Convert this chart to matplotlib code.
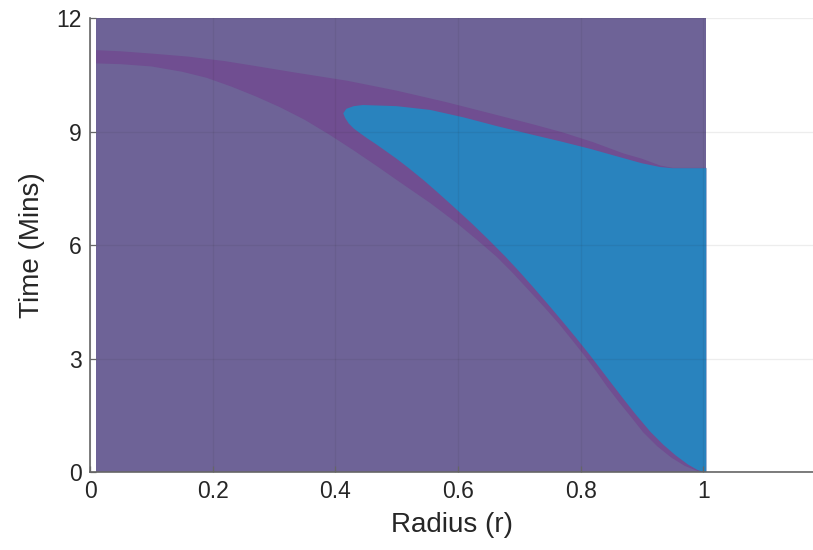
import numpy as np
import matplotlib
matplotlib.use("Agg")
import matplotlib.pyplot as plt

plt.rcParams['font.family'] = ['Liberation Sans', 'DejaVu Sans']

# Extent of the computed domain
domain_r = [0.01, 1.005]
domain_t = [0.0, 12.0]

# Upper edge of the transition band
band_top_r = [0.01, 0.05, 0.10, 0.16, 0.22, 0.27, 0.33, 0.42, 0.50, 0.58,
              0.66, 0.72, 0.77, 0.82, 0.87, 0.90, 0.93, 0.95, 1.005]
band_top_t = [11.15, 11.12, 11.06, 10.98, 10.86, 10.73, 10.57, 10.34, 10.08, 9.78,
              9.45, 9.20, 8.98, 8.72, 8.42, 8.28, 8.10, 8.04, 8.04]

# Lower edge of the transition band
band_low_r = [0.01, 0.05, 0.10, 0.15, 0.19, 0.23, 0.27, 0.31, 0.35, 0.39, 0.43,
              0.47, 0.50, 0.5547, 0.598, 0.63, 0.663, 0.69, 0.715, 0.74, 0.764,
              0.786, 0.8075, 0.826, 0.843, 0.862, 0.882, 0.902, 0.925, 0.948,
              0.97, 0.99, 1.0]
band_low_t = [10.80, 10.78, 10.72, 10.58, 10.42, 10.19, 9.93, 9.64, 9.31, 8.92, 8.50,
              8.06, 7.72, 7.11, 6.58, 6.15, 5.69, 5.25, 4.81, 4.37, 3.93,
              3.49, 3.05, 2.65, 2.26, 1.86, 1.46, 1.05, 0.68, 0.38,
              0.16, 0.03, 0.0]

# Boundary of the fully transformed zone: upper side (tip -> outer wall)
zone_top_r = [0.413, 0.418, 0.43, 0.445, 0.50, 0.555, 0.61, 0.664, 0.72, 0.767,
              0.816, 0.86, 0.90, 0.93, 0.95, 1.005]
zone_top_t = [9.48, 9.60, 9.67, 9.70, 9.67, 9.57, 9.37, 9.14, 8.92, 8.74,
              8.54, 8.34, 8.16, 8.06, 8.03, 8.03]
# lower side (tip -> outer wall at t = 0)
zone_low_r = [0.413, 0.416, 0.422, 0.430, 0.440, 0.452, 0.466, 0.480, 0.500, 0.520,
              0.545, 0.5655, 0.595, 0.6226, 0.650, 0.677, 0.700, 0.723, 0.746,
              0.7695, 0.793, 0.8157, 0.835, 0.851, 0.87, 0.89, 0.914, 0.935,
              0.955, 0.975, 0.99, 1.0, 1.005]
zone_low_t = [9.48, 9.36, 9.21, 9.08, 8.96, 8.82, 8.67, 8.51, 8.28, 8.03,
              7.70, 7.41, 6.98, 6.57, 6.14, 5.70, 5.30, 4.88, 4.45,
              4.00, 3.54, 3.08, 2.67, 2.33, 1.93, 1.52, 1.06, 0.72,
              0.44, 0.20, 0.06, 0.0, 0.0]

x_ticks = [0, 0.2, 0.4, 0.6, 0.8, 1]
x_tick_labels = ['0', '0.2', '0.4', '0.6', '0.8', '1']
y_ticks = [0, 3, 6, 9, 12]
y_tick_labels = ['0', '3', '6', '9', '12']

c_base = '#6e6397'
c_band = '#704e91'
c_zone = '#2983be'
c_text = '#262626'
c_axis = '#666666'

fig = plt.figure(figsize=(8.13, 5.5), dpi=100)
ax = fig.add_axes([90 / 813, 78 / 550, 723 / 813, 454 / 550])

# base region
ax.fill_between(domain_r, domain_t[0], domain_t[1], color=c_base, lw=0, zorder=1)

# transition band
band_r = np.concatenate([band_top_r, [1.005], band_low_r[::-1]])
band_t = np.concatenate([band_top_t, [0.0], band_low_t[::-1]])
ax.fill(band_r, band_t, color=c_band, lw=0, zorder=1.1)

# transformed zone
zone_r = np.concatenate([zone_top_r, zone_low_r[::-1]])
zone_t = np.concatenate([zone_top_t, zone_low_t[::-1]])
ax.fill(zone_r, zone_t, color=c_zone, lw=0, zorder=1.2)

ax.set_xlim(0, 1.179)
ax.set_ylim(0, 12)
ax.set_xticks(x_ticks, x_tick_labels)
ax.set_yticks(y_ticks, y_tick_labels)

ax.set_axisbelow(False)
ax.grid(True, color='#262626', alpha=0.08, lw=0.9)

for s in ['top', 'right']:
    ax.spines[s].set_visible(False)
for s in ['left', 'bottom']:
    ax.spines[s].set_color(c_axis)
    ax.spines[s].set_linewidth(1.2)

ax.tick_params(direction='in', length=4, width=0.9, color=c_axis,
               labelsize=16.5, labelcolor=c_text, pad=6)

ax.set_xlabel('Radius (r)', fontsize=20, color=c_text, labelpad=6)
ax.set_ylabel('Time (Mins)', fontsize=20, color=c_text, labelpad=8)

fig.savefig('out.png', dpi=100)
